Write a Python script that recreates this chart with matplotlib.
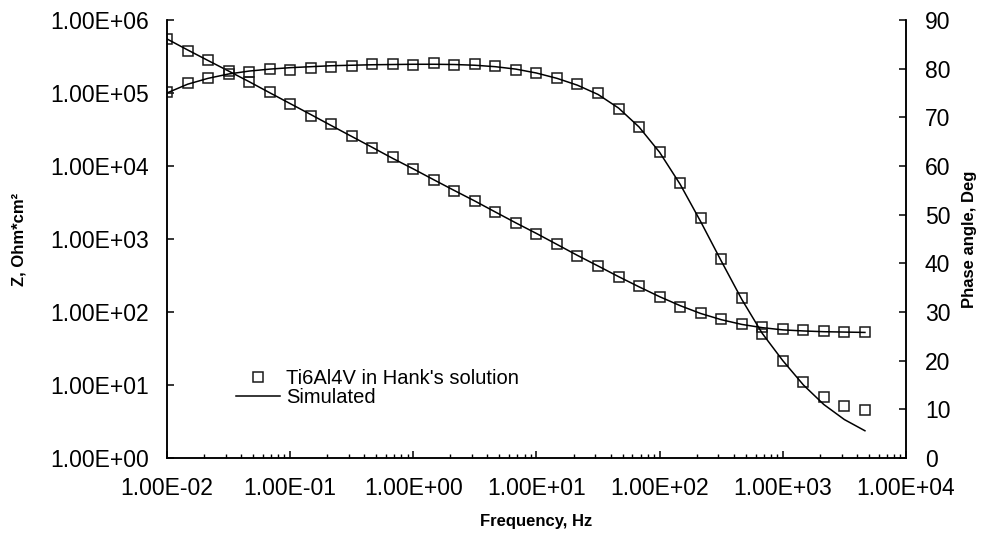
import numpy as np
import matplotlib
matplotlib.use("Agg")
import matplotlib.pyplot as plt
from matplotlib.ticker import (FuncFormatter, LogLocator, NullLocator,
                               NullFormatter, MultipleLocator)

plt.rcParams['font.family'] = ['Liberation Sans', 'DejaVu Sans']

# frequency sweep, 6 points per decade from 0.01 Hz
freq = [0.01, 0.0147, 0.0215, 0.0316, 0.0464, 0.0681,
        0.1, 0.147, 0.215, 0.316, 0.464, 0.681,
        1.0, 1.47, 2.15, 3.16, 4.64, 6.81,
        10.0, 14.7, 21.5, 31.6, 46.4, 68.1,
        100.0, 147.0, 215.0, 316.0, 464.0, 681.0,
        1000.0, 1470.0, 2150.0, 3160.0, 4640.0]

# measured impedance modulus, Ohm*cm2
z_meas = [5.50e5, 3.80e5, 2.82e5, 2.00e5, 1.43e5, 1.02e5,
          7.08e4, 4.90e4, 3.72e4, 2.57e4, 1.78e4, 1.32e4,
          9.12e3, 6.46e3, 4.57e3, 3.31e3, 2.32e3, 1.64e3,
          1.18e3, 841, 585, 431, 299, 224,
          162, 117, 97.7, 79.4, 67.6, 61.7,
          58.5, 56.2, 55.5, 52.5, 52.5]

# measured phase angle, deg
ph_meas = [75.1, 77.1, 78.0, 79.0, 79.3, 79.9,
           79.8, 80.1, 80.4, 80.5, 80.9, 80.9,
           80.8, 81.1, 80.8, 80.9, 80.5, 79.8,
           79.2, 78.1, 76.8, 74.9, 71.8, 68.1,
           62.9, 56.5, 49.3, 40.8, 32.9, 25.5,
           19.9, 15.6, 12.5, 10.6, 9.9]

# equivalent circuit fit
z_sim = [5.50e5, 3.89e5, 2.79e5, 2.00e5, 1.43e5, 1.01e5,
         7.16e4, 5.07e4, 3.59e4, 2.54e4, 1.80e4, 1.27e4,
         9.12e3, 6.46e3, 4.62e3, 3.31e3, 2.34e3, 1.66e3,
         1.19e3, 841, 596, 427, 305, 221,
         162, 122, 95.5, 78.5, 67.6, 61.0,
         56.9, 55.0, 53.7, 53.1, 52.5]

ph_sim = [75.0, 76.8, 78.0, 78.9, 79.5, 79.9,
          80.2, 80.4, 80.6, 80.7, 80.8, 80.85,
          80.9, 80.9, 80.85, 80.7, 80.4, 79.9,
          79.1, 78.0, 76.6, 74.7, 71.9, 68.0,
          62.8, 56.2, 48.6, 40.5, 32.6, 25.6,
          20.0, 15.0, 11.0, 7.9, 5.6]

# decade ticks
x_ticks = [1e-2, 1e-1, 1e0, 1e1, 1e2, 1e3, 1e4]
z_ticks = [1e0, 1e1, 1e2, 1e3, 1e4, 1e5, 1e6]

fig = plt.figure(figsize=(9.85, 5.37), dpi=100)
ax = fig.add_axes([0.1695, 0.1471, 0.7503, 0.8157])
ax2 = ax.twinx()

mk = dict(marker='s', ms=6.5, mfc='none', mec='#1a1a1a', mew=1.1, ls='none')
ln = dict(color='black', lw=1.1)

meas, = ax.plot(freq, z_meas, **mk)
sim, = ax.plot(freq, z_sim, **ln)
ax2.plot(freq, ph_meas, **mk)
ax2.plot(freq, ph_sim, **ln)

ax.set_xscale('log')
ax.set_yscale('log')
ax.set_xlim(1e-2, 1e4)
ax.set_ylim(1, 1e6)
ax2.set_ylim(0, 90)

sci = FuncFormatter(lambda v, p: f'{v:.2E}')
ax.set_xticks(x_ticks)
ax.xaxis.set_minor_locator(LogLocator(base=10, subs=np.arange(2, 10), numticks=20))
ax.xaxis.set_major_formatter(sci)
ax.xaxis.set_minor_formatter(NullFormatter())
ax.set_yticks(z_ticks)
ax.yaxis.set_minor_locator(NullLocator())
ax.yaxis.set_major_formatter(sci)
ax2.yaxis.set_major_locator(MultipleLocator(10))

for a in (ax, ax2):
    a.spines['top'].set_visible(False)
    for s in a.spines.values():
        s.set_linewidth(1.1)

ax.tick_params(axis='both', which='major', direction='in', length=5, width=1.1,
               labelsize=16.5)
ax.tick_params(axis='x', which='minor', direction='in', length=3, width=1.0)
ax.tick_params(axis='x', which='major', pad=14)
ax.tick_params(axis='y', which='major', pad=13)
ax2.tick_params(axis='y', direction='in', length=5, width=1.1, labelsize=16.5, pad=13.5)

ax.set_xlabel('Frequency, Hz', fontsize=12, fontweight='bold')
ax.set_ylabel('Z, Ohm*cm²', fontsize=12, fontweight='bold')
ax2.set_ylabel('Phase angle, Deg', fontsize=12, fontweight='bold')
ax.xaxis.set_label_coords(0.5, -0.127)
ax.yaxis.set_label_coords(-0.19, 0.5)
ax2.yaxis.set_label_coords(1.076, 0.5)

ax.legend([meas, sim], ["Ti6Al4V in Hank's solution", 'Simulated'],
          loc='upper left', bbox_to_anchor=(0.093, 0.203), frameon=False,
          fontsize=14.5, handlelength=2.2, handletextpad=0.3,
          labelspacing=-0.02, borderpad=0, borderaxespad=0)

fig.savefig('out.png', dpi=100)
